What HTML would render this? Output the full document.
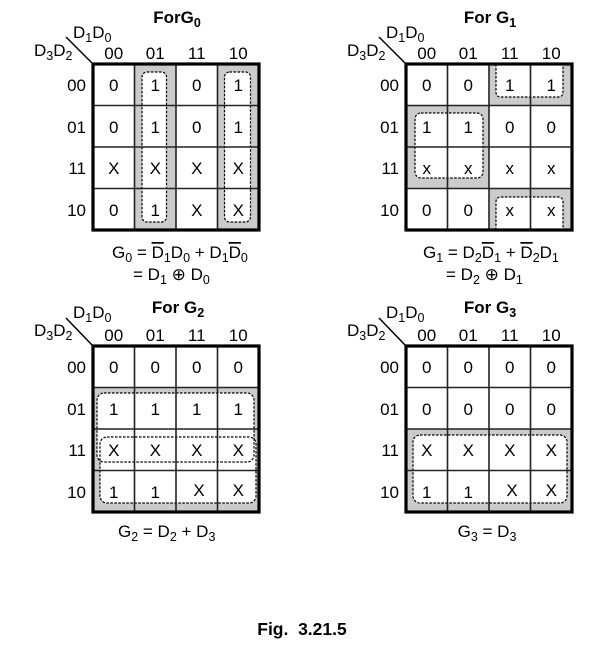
<!DOCTYPE html>
<html><head><meta charset="utf-8"><style>
html,body{margin:0;padding:0;background:#fff;}
svg{display:block;}
text{font-family:"Liberation Sans",Arial,sans-serif;font-size:17px;fill:#000;}
.b{font-weight:bold;}
.s{font-size:12.5px;}
.c{text-anchor:middle;}
.r{text-anchor:end;}
.ol{text-decoration:overline;}
</style></head><body>
<svg width="600" height="660" viewBox="0 0 600 660" xmlns="http://www.w3.org/2000/svg">
<defs>
<g id="grid">
<line x1="41.5" y1="0" x2="41.5" y2="166" stroke="#222" stroke-width="1.6"/>
<line x1="83" y1="0" x2="83" y2="166" stroke="#222" stroke-width="1.6"/>
<line x1="124.5" y1="0" x2="124.5" y2="166" stroke="#222" stroke-width="1.6"/>
<line x1="0" y1="41.5" x2="166" y2="41.5" stroke="#222" stroke-width="1.6"/>
<line x1="0" y1="83" x2="166" y2="83" stroke="#222" stroke-width="1.6"/>
<line x1="0" y1="124.5" x2="166" y2="124.5" stroke="#222" stroke-width="1.6"/>
<rect x="0" y="0" width="166" height="166" fill="none" stroke="#000" stroke-width="3.2"/>
</g>
</defs>

<!-- ===== MAP G0 ===== -->
<text x="177" y="23" class="b c">ForG<tspan class="s" dy="4">0</tspan></text>
<text x="73" y="38">D<tspan class="s" dy="4">1</tspan><tspan dy="-4">D</tspan><tspan class="s" dy="4">0</tspan></text>
<text x="34" y="56">D<tspan class="s" dy="4">3</tspan><tspan dy="-4">D</tspan><tspan class="s" dy="4">2</tspan></text>
<line x1="66" y1="37" x2="93" y2="64" stroke="#000" stroke-width="1.5"/>
<text x="113.75" y="59" class="c">00</text><text x="155.25" y="59" class="c">01</text><text x="196.75" y="59" class="c">11</text><text x="238.25" y="59" class="c">10</text>
<text x="86" y="91" class="r">00</text><text x="86" y="133" class="r">01</text><text x="86" y="174" class="r">11</text><text x="86" y="216" class="r">10</text>
<rect x="134.5" y="64" width="41.5" height="166" fill="#cbcbcb"/>
<rect x="217.5" y="64" width="41.5" height="166" fill="#cbcbcb"/>
<rect x="142" y="72" width="24.5" height="150" rx="5" fill="#fff" stroke="#000" stroke-width="1.2" stroke-dasharray="2.5,1.5"/>
<rect x="224.5" y="72" width="26" height="150" rx="5" fill="#fff" stroke="#000" stroke-width="1.2" stroke-dasharray="2.5,1.5"/>
<use href="#grid" x="93" y="64"/>
<text x="113.75" y="91" class="c">0</text><text x="155.25" y="91" class="c">1</text><text x="196.75" y="91" class="c">0</text><text x="238.25" y="91" class="c">1</text>
<text x="113.75" y="133" class="c">0</text><text x="155.25" y="133" class="c">1</text><text x="196.75" y="133" class="c">0</text><text x="238.25" y="133" class="c">1</text>
<text x="113.75" y="174" class="c">X</text><text x="155.25" y="174" class="c">X</text><text x="196.75" y="174" class="c">X</text><text x="238.25" y="174" class="c">X</text>
<text x="113.75" y="216" class="c">0</text><text x="155.25" y="216" class="c">1</text><text x="196.75" y="216" class="c">X</text><text x="238.25" y="216" class="c">X</text>
<text x="112" y="258">G<tspan class="s" dy="4">0</tspan><tspan dy="-4"> = </tspan><tspan class="ol">D</tspan><tspan class="s" dy="4">1</tspan><tspan dy="-4">D</tspan><tspan class="s" dy="4">0</tspan><tspan dy="-4"> + D</tspan><tspan class="s" dy="4">1</tspan><tspan dy="-4" class="ol">D</tspan><tspan class="s" dy="4">0</tspan></text>
<text x="133" y="280">= D<tspan class="s" dy="4">1</tspan><tspan dy="-4"> ⊕ D</tspan><tspan class="s" dy="4">0</tspan></text>

<!-- ===== MAP G1 ===== -->
<text x="490" y="23" class="b c">For G<tspan class="s" dy="4">1</tspan></text>
<text x="386" y="38">D<tspan class="s" dy="4">1</tspan><tspan dy="-4">D</tspan><tspan class="s" dy="4">0</tspan></text>
<text x="347" y="56">D<tspan class="s" dy="4">3</tspan><tspan dy="-4">D</tspan><tspan class="s" dy="4">2</tspan></text>
<line x1="379" y1="37" x2="406" y2="64" stroke="#000" stroke-width="1.5"/>
<text x="426.75" y="59" class="c">00</text><text x="468.25" y="59" class="c">01</text><text x="509.75" y="59" class="c">11</text><text x="551.25" y="59" class="c">10</text>
<text x="399" y="91" class="r">00</text><text x="399" y="133" class="r">01</text><text x="399" y="174" class="r">11</text><text x="399" y="216" class="r">10</text>
<rect x="489" y="64" width="83" height="41.5" fill="#cbcbcb"/>
<rect x="406" y="105.5" width="83" height="83" fill="#cbcbcb"/>
<rect x="489" y="188.5" width="83" height="41.5" fill="#cbcbcb"/>
<path d="M496,64 V92 Q496,97 501,97 H558 Q563,97 563,92 V64" fill="#fff" stroke="#000" stroke-width="1.2" stroke-dasharray="2.5,1.5"/>
<rect x="415" y="113" width="68" height="65" rx="6" fill="#fff" stroke="#000" stroke-width="1.2" stroke-dasharray="2.5,1.5"/>
<path d="M496,230 V202 Q496,197 501,197 H558 Q563,197 563,202 V230" fill="#fff" stroke="#000" stroke-width="1.2" stroke-dasharray="2.5,1.5"/>
<use href="#grid" x="406" y="64"/>
<text x="426.75" y="91" class="c">0</text><text x="468.25" y="91" class="c">0</text><text x="509.75" y="91" class="c">1</text><text x="551.25" y="91" class="c">1</text>
<text x="426.75" y="133" class="c">1</text><text x="468.25" y="133" class="c">1</text><text x="509.75" y="133" class="c">0</text><text x="551.25" y="133" class="c">0</text>
<text x="426.75" y="174" class="c">x</text><text x="468.25" y="174" class="c">x</text><text x="509.75" y="174" class="c">x</text><text x="551.25" y="174" class="c">x</text>
<text x="426.75" y="216" class="c">0</text><text x="468.25" y="216" class="c">0</text><text x="509.75" y="216" class="c">x</text><text x="551.25" y="216" class="c">x</text>
<text x="423" y="258">G<tspan class="s" dy="4">1</tspan><tspan dy="-4"> = D</tspan><tspan class="s" dy="4">2</tspan><tspan dy="-4" class="ol">D</tspan><tspan class="s" dy="4">1</tspan><tspan dy="-4"> + </tspan><tspan class="ol">D</tspan><tspan class="s" dy="4">2</tspan><tspan dy="-4">D</tspan><tspan class="s" dy="4">1</tspan></text>
<text x="446" y="280">= D<tspan class="s" dy="4">2</tspan><tspan dy="-4"> ⊕ D</tspan><tspan class="s" dy="4">1</tspan></text>

<!-- ===== MAP G2 ===== -->
<text x="178" y="313" class="b c">For G<tspan class="s" dy="4">2</tspan></text>
<text x="73" y="318">D<tspan class="s" dy="4">1</tspan><tspan dy="-4">D</tspan><tspan class="s" dy="4">0</tspan></text>
<text x="34" y="336">D<tspan class="s" dy="4">3</tspan><tspan dy="-4">D</tspan><tspan class="s" dy="4">2</tspan></text>
<line x1="66" y1="318" x2="93" y2="346" stroke="#000" stroke-width="1.5"/>
<text x="113.75" y="341" class="c">00</text><text x="155.25" y="341" class="c">01</text><text x="196.75" y="341" class="c">11</text><text x="238.25" y="341" class="c">10</text>
<text x="86" y="373" class="r">00</text><text x="86" y="415" class="r">01</text><text x="86" y="456" class="r">11</text><text x="86" y="498" class="r">10</text>
<rect x="93" y="387.5" width="166" height="124.5" fill="#cbcbcb"/>
<rect x="97" y="393" width="157" height="69" rx="7" fill="#fff"/>
<rect x="100" y="437" width="156" height="66" rx="7" fill="#fff"/>
<rect x="97" y="393" width="157" height="69" rx="7" fill="none" stroke="#000" stroke-width="1.2" stroke-dasharray="2.5,1.5"/>
<rect x="100" y="437" width="156" height="66" rx="7" fill="none" stroke="#000" stroke-width="1.2" stroke-dasharray="2.5,1.5"/>
<use href="#grid" x="93" y="346"/>
<text x="113.75" y="373" class="c">0</text><text x="155.25" y="373" class="c">0</text><text x="196.75" y="373" class="c">0</text><text x="238.25" y="373" class="c">0</text>
<text x="113.75" y="415" class="c">1</text><text x="155.25" y="415" class="c">1</text><text x="196.75" y="415" class="c">1</text><text x="238.25" y="415" class="c">1</text>
<text x="113.75" y="456" class="c">X</text><text x="155.25" y="456" class="c">X</text><text x="196.75" y="456" class="c">X</text><text x="238.25" y="456" class="c">X</text>
<text x="113.75" y="498" class="c">1</text><text x="155.25" y="498" class="c">1</text><text x="199" y="496" class="c">X</text><text x="238.25" y="496" class="c">X</text>
<text x="118" y="537">G<tspan class="s" dy="4">2</tspan><tspan dy="-4"> = D</tspan><tspan class="s" dy="4">2</tspan><tspan dy="-4"> + D</tspan><tspan class="s" dy="4">3</tspan></text>

<!-- ===== MAP G3 ===== -->
<text x="490" y="313" class="b c">For G<tspan class="s" dy="4">3</tspan></text>
<text x="386" y="318">D<tspan class="s" dy="4">1</tspan><tspan dy="-4">D</tspan><tspan class="s" dy="4">0</tspan></text>
<text x="347" y="336">D<tspan class="s" dy="4">3</tspan><tspan dy="-4">D</tspan><tspan class="s" dy="4">2</tspan></text>
<line x1="379" y1="318" x2="406" y2="346" stroke="#000" stroke-width="1.5"/>
<text x="426.75" y="341" class="c">00</text><text x="468.25" y="341" class="c">01</text><text x="509.75" y="341" class="c">11</text><text x="551.25" y="341" class="c">10</text>
<text x="399" y="373" class="r">00</text><text x="399" y="415" class="r">01</text><text x="399" y="456" class="r">11</text><text x="399" y="498" class="r">10</text>
<rect x="406" y="429" width="166" height="83" fill="#cbcbcb"/>
<rect x="413" y="435" width="154" height="68" rx="7" fill="#fff" stroke="#000" stroke-width="1.2" stroke-dasharray="2.5,1.5"/>
<use href="#grid" x="406" y="346"/>
<text x="426.75" y="373" class="c">0</text><text x="468.25" y="373" class="c">0</text><text x="509.75" y="373" class="c">0</text><text x="551.25" y="373" class="c">0</text>
<text x="426.75" y="415" class="c">0</text><text x="468.25" y="415" class="c">0</text><text x="509.75" y="415" class="c">0</text><text x="551.25" y="415" class="c">0</text>
<text x="426.75" y="456" class="c">X</text><text x="468.25" y="456" class="c">X</text><text x="509.75" y="456" class="c">X</text><text x="551.25" y="456" class="c">X</text>
<text x="426.75" y="498" class="c">1</text><text x="468.25" y="498" class="c">1</text><text x="512" y="496" class="c">X</text><text x="551.25" y="496" class="c">X</text>
<text x="487" y="537" class="c">G<tspan class="s" dy="4">3</tspan><tspan dy="-4"> = D</tspan><tspan class="s" dy="4">3</tspan></text>

<text x="302" y="635" class="b c" style="font-size:17.5px">Fig.&#160;&#160;3.21.5</text>
</svg>
</body></html>
